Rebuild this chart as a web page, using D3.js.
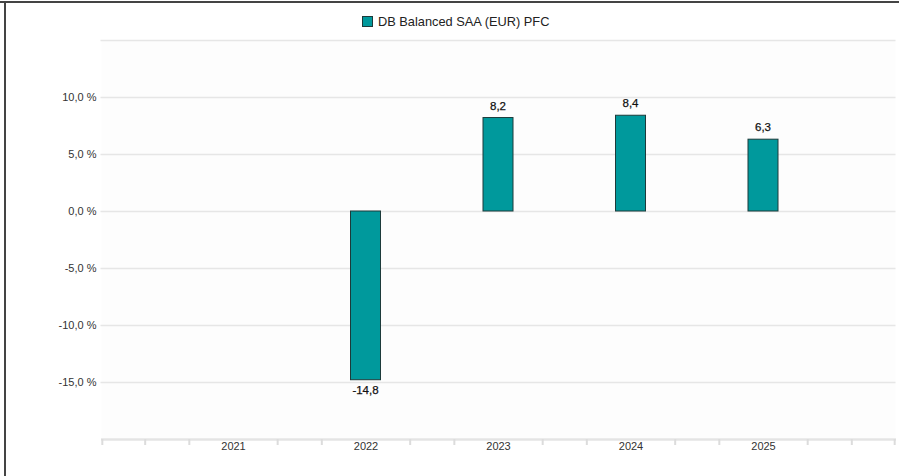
<!DOCTYPE html>
<html lang="en">
<head>
    <meta charset="utf-8">
    <title>DB Balanced SAA (EUR) PFC</title>
    <script src="https://cdn.jsdelivr.net/npm/d3@7"></script>
    <style>
        html, body { margin: 0; padding: 0; background: #fff; }
        svg { display: block; font-family: "Liberation Sans", Arial, sans-serif; }
        .grid line { stroke: #e6e6e6; stroke-width: 1.5; }
        .grid text { fill: #333; font-size: 11px; }
        .x .domain { stroke: #e4e4e4; stroke-width: 2.5; }
        .x .tick line { stroke: #dcdcdc; stroke-width: 2; }
        .x .tick text { fill: #333; font-size: 11px; }
    </style>
</head>
<body>
<div id="chart"></div>
<script>
    // data
    const seriesName = 'DB Balanced SAA (EUR) PFC';
    const years = [2022, 2023, 2024, 2025];
    const returns = [-14.8, 8.2, 8.4, 6.3];
    const yearLabels = [2021, 2022, 2023, 2024, 2025];
    const yTicks = [-15, -10, -5, 0, 5, 10, 15];

    const width = 899, height = 476;
    const margins = {top: 40, right: 3.5, bottom: 37, left: 100.5};
    const teal = '#00999c';

    const svg = d3.select('#chart')
        .append('svg')
            .attr('width', width)
            .attr('height', height);

    const x = d3.scaleLinear()
        .domain([2020, 2026])
        .range([margins.left, width - margins.right]);

    const y = d3.scaleLinear()
        .domain([-20, 15])
        .range([height - margins.bottom, margins.top]);

    // faint plot background
    svg.append('rect')
        .attr('x', x(2020) + 1)
        .attr('y', y(15))
        .attr('width', x(2026) - x(2020) - 1)
        .attr('height', y(-20) - y(15))
        .attr('fill', '#fdfdfd');

    // y gridlines + labels
    const fmt = v => v === 15 ? '' : v.toFixed(1).replace('.', ',') + ' %';
    svg.append('g')
        .attr('class', 'grid')
        .attr('transform', `translate(${x(2020)}, 0)`)
        .call(d3.axisLeft(y)
            .tickValues(yTicks)
            .tickSize(-(x(2026) - x(2020)))
            .tickPadding(4)
            .tickFormat(fmt))
        .call(g => g.select('.domain').remove());

    // x axis: tick marks between categories
    const tickPos = [];
    d3.range(2020, 2027).forEach(yr => {
        [yr - 1 / 3, yr + 1 / 3].forEach(t => {
            if (t > 2020 && t < 2026) tickPos.push(t);
        });
    });
    tickPos.push(2020.01, 2025.99);

    svg.append('g')
        .attr('class', 'x')
        .attr('transform', `translate(0, ${y(-20)})`)
        .call(d3.axisBottom(x)
            .tickValues(tickPos)
            .tickSize(6)
            .tickSizeOuter(0)
            .tickFormat(''));

    svg.append('g')
        .attr('class', 'x labels')
        .attr('transform', `translate(0, ${y(-20)})`)
        .call(d3.axisBottom(x)
            .tickValues(yearLabels)
            .tickSize(0)
            .tickPadding(3)
            .tickFormat(d3.format('d')))
        .call(g => g.select('.domain').remove());

    // bars
    const barW = 30;
    const data = years.map((yr, i) => ({year: yr, value: returns[i]}));

    svg.append('g')
        .selectAll('rect')
        .data(data)
        .join('rect')
            .attr('x', d => x(d.year) - barW / 2)
            .attr('y', d => y(Math.max(0, d.value)))
            .attr('width', barW)
            .attr('height', d => Math.abs(y(d.value) - y(0)))
            .attr('fill', teal)
            .attr('stroke', '#1d3b3b')
            .attr('stroke-width', 1);

    // value labels
    svg.append('g')
        .selectAll('text')
        .data(data)
        .join('text')
            .attr('x', d => x(d.year))
            .attr('y', d => d.value >= 0 ? y(d.value) - 8 : y(d.value) + 14)
            .attr('text-anchor', 'middle')
            .attr('font-size', 11.5)
            .attr('fill', '#111')
            .attr('stroke', '#111')
            .attr('stroke-width', 0.25)
            .text(d => d.value.toFixed(1).replace('.', ','));

    // legend
    const legend = svg.append('g').attr('transform', 'translate(362, 16)');
    legend.append('rect')
        .attr('x', 0.5).attr('y', 0.5)
        .attr('width', 10).attr('height', 10)
        .attr('fill', teal)
        .attr('stroke', '#1d3b3b');
    legend.append('text')
        .attr('x', 16)
        .attr('y', 10)
        .attr('font-size', 12.8)
        .attr('fill', '#222')
        .text(seriesName);

    // frame edges (top + left)
    svg.append('line')
        .attr('x1', 0).attr('x2', width)
        .attr('y1', 2).attr('y2', 2)
        .attr('stroke', '#444').attr('stroke-width', 2);
    svg.append('line')
        .attr('x1', 5).attr('x2', 5)
        .attr('y1', 1).attr('y2', height)
        .attr('stroke', '#444').attr('stroke-width', 2);
</script>
</body>
</html>
